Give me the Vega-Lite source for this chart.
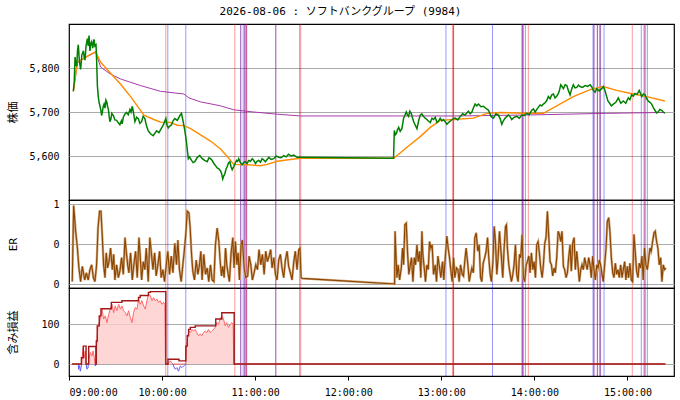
{
  "$schema": "https://vega.github.io/schema/vega-lite/v6.json",
  "padding": {"left": 6, "top": 5, "right": 7, "bottom": 5},
  "title": {"text": "2026-08-06 : ソフトバンクグループ (9984)", "anchor": "middle", "font": "DejaVu Sans Mono, Noto Sans CJK JP", "fontSize": 11, "fontWeight": "normal", "color": "#000", "offset": 6},
  "spacing": 0,
  "bounds": "flush",
  "datasets": {
    "sig": [
      {"m": 62.4, "k": "r"}, {"m": 63.7, "k": "b"}, {"m": 75.3, "k": "b"},
      {"m": 106.9, "k": "r"}, {"m": 110.7, "k": "r"}, {"m": 110.7, "k": "b"}, {"m": 112.3, "k": "b"},
      {"m": 113.3, "k": "r"}, {"m": 113.3, "k": "b"}, {"m": 114.2, "k": "r"}, {"m": 114.2, "k": "b"}, {"m": 114.6, "k": "r"},
      {"m": 133.3, "k": "r"}, {"m": 133.3, "k": "b"}, {"m": 148.7, "k": "b"}, {"m": 149.4, "k": "r"},
      {"m": 243.0, "k": "b"}, {"m": 247.2, "k": "r"}, {"m": 247.9, "k": "r"}, {"m": 247.9, "k": "b"},
      {"m": 273.0, "k": "b"}, {"m": 292.1, "k": "r"}, {"m": 292.1, "k": "b"}, {"m": 292.7, "k": "r"}, {"m": 292.7, "k": "b"},
      {"m": 294.2, "k": "b"}, {"m": 296.1, "k": "r"},
      {"m": 337.8, "k": "b"}, {"m": 338.4, "k": "r"}, {"m": 338.4, "k": "b"}, {"m": 340.6, "k": "r"}, {"m": 340.6, "k": "b"},
      {"m": 341.9, "k": "r"}, {"m": 342.5, "k": "r"}, {"m": 342.5, "k": "b"}, {"m": 344.9, "k": "b"},
      {"m": 363.1, "k": "r"}, {"m": 368.9, "k": "b"}, {"m": 370.6, "k": "r"}, {"m": 371.3, "k": "r"}, {"m": 371.3, "k": "b"}, {"m": 372.8, "k": "b"}
    ],
    "price": [
      {"m": 2.8, "p": 5748}, {"m": 3.4, "p": 5770}, {"m": 3.9, "p": 5825}, {"m": 4.4, "p": 5810}, {"m": 5.0, "p": 5804},
      {"m": 5.5, "p": 5840}, {"m": 6.0, "p": 5853}, {"m": 6.7, "p": 5815}, {"m": 7.5, "p": 5797}, {"m": 8.3, "p": 5830},
      {"m": 9.3, "p": 5839}, {"m": 9.8, "p": 5825}, {"m": 10.3, "p": 5818}, {"m": 11.0, "p": 5850}, {"m": 11.8, "p": 5867},
      {"m": 12.4, "p": 5850}, {"m": 12.9, "p": 5874}, {"m": 13.5, "p": 5839}, {"m": 14.0, "p": 5855}, {"m": 14.6, "p": 5860},
      {"m": 15.3, "p": 5845}, {"m": 16.1, "p": 5865}, {"m": 16.7, "p": 5850}, {"m": 17.4, "p": 5853}, {"m": 17.8, "p": 5818},
      {"m": 18.3, "p": 5760}, {"m": 18.9, "p": 5734}, {"m": 19.4, "p": 5722}, {"m": 20.0, "p": 5713}, {"m": 20.5, "p": 5705},
      {"m": 21.0, "p": 5692}, {"m": 21.5, "p": 5700}, {"m": 22.1, "p": 5713}, {"m": 22.6, "p": 5718}, {"m": 23.2, "p": 5709},
      {"m": 23.8, "p": 5727}, {"m": 24.4, "p": 5722}, {"m": 24.9, "p": 5712}, {"m": 25.4, "p": 5706}, {"m": 25.9, "p": 5690},
      {"m": 26.4, "p": 5678}, {"m": 27.0, "p": 5684}, {"m": 27.6, "p": 5697}, {"m": 28.6, "p": 5692}, {"m": 29.6, "p": 5682},
      {"m": 30.7, "p": 5681}, {"m": 31.7, "p": 5676}, {"m": 32.8, "p": 5671}, {"m": 33.8, "p": 5680}, {"m": 34.3, "p": 5673},
      {"m": 35.0, "p": 5688}, {"m": 36.0, "p": 5695}, {"m": 37.1, "p": 5699}, {"m": 38.2, "p": 5694}, {"m": 39.3, "p": 5706},
      {"m": 40.0, "p": 5700}, {"m": 40.8, "p": 5713}, {"m": 41.5, "p": 5700}, {"m": 42.5, "p": 5678}, {"m": 43.6, "p": 5688},
      {"m": 44.7, "p": 5685}, {"m": 45.7, "p": 5674}, {"m": 46.8, "p": 5678}, {"m": 47.8, "p": 5690}, {"m": 48.9, "p": 5685},
      {"m": 50.0, "p": 5668}, {"m": 51.1, "p": 5657}, {"m": 52.7, "p": 5650}, {"m": 54.3, "p": 5646}, {"m": 55.4, "p": 5652},
      {"m": 56.5, "p": 5657}, {"m": 58.0, "p": 5653}, {"m": 59.7, "p": 5664}, {"m": 61.0, "p": 5672}, {"m": 62.4, "p": 5685},
      {"m": 63.2, "p": 5670}, {"m": 64.0, "p": 5664}, {"m": 65.0, "p": 5668}, {"m": 66.1, "p": 5671}, {"m": 67.1, "p": 5680},
      {"m": 68.2, "p": 5685}, {"m": 69.8, "p": 5681}, {"m": 71.5, "p": 5692}, {"m": 72.5, "p": 5697}, {"m": 73.6, "p": 5678},
      {"m": 74.7, "p": 5657}, {"m": 75.8, "p": 5629}, {"m": 76.9, "p": 5594}, {"m": 77.7, "p": 5598}, {"m": 79.0, "p": 5590},
      {"m": 80.0, "p": 5585}, {"m": 81.1, "p": 5587}, {"m": 82.7, "p": 5597}, {"m": 84.3, "p": 5601}, {"m": 85.9, "p": 5594},
      {"m": 87.5, "p": 5590}, {"m": 89.1, "p": 5587}, {"m": 90.2, "p": 5596}, {"m": 91.2, "p": 5594}, {"m": 92.3, "p": 5590},
      {"m": 93.4, "p": 5583}, {"m": 94.5, "p": 5578}, {"m": 95.5, "p": 5573}, {"m": 96.6, "p": 5571}, {"m": 97.7, "p": 5566},
      {"m": 98.4, "p": 5560}, {"m": 99.1, "p": 5548}, {"m": 99.8, "p": 5555}, {"m": 100.4, "p": 5559}, {"m": 101.2, "p": 5570},
      {"m": 102.0, "p": 5576}, {"m": 102.8, "p": 5584}, {"m": 103.7, "p": 5587}, {"m": 104.5, "p": 5575}, {"m": 105.2, "p": 5569},
      {"m": 106.2, "p": 5576}, {"m": 107.1, "p": 5583}, {"m": 108.0, "p": 5590}, {"m": 108.7, "p": 5588}, {"m": 109.4, "p": 5594},
      {"m": 110.5, "p": 5585}, {"m": 111.6, "p": 5580}, {"m": 112.7, "p": 5586}, {"m": 113.8, "p": 5587}, {"m": 114.8, "p": 5583},
      {"m": 115.9, "p": 5590}, {"m": 117.0, "p": 5588}, {"m": 118.1, "p": 5594}, {"m": 119.1, "p": 5590}, {"m": 120.2, "p": 5583},
      {"m": 121.2, "p": 5588}, {"m": 122.3, "p": 5590}, {"m": 123.4, "p": 5586}, {"m": 124.5, "p": 5594}, {"m": 125.6, "p": 5591},
      {"m": 126.6, "p": 5587}, {"m": 127.7, "p": 5592}, {"m": 128.8, "p": 5597}, {"m": 130.4, "p": 5592}, {"m": 132.0, "p": 5594},
      {"m": 133.6, "p": 5600}, {"m": 135.2, "p": 5597}, {"m": 136.8, "p": 5596}, {"m": 138.4, "p": 5601}, {"m": 140.0, "p": 5598},
      {"m": 141.6, "p": 5604}, {"m": 143.2, "p": 5600}, {"m": 144.9, "p": 5602}, {"m": 147.0, "p": 5597}, {"m": 149.2, "p": 5597},
      {"m": 209.2, "p": 5595},
      {"m": 209.7, "p": 5658}, {"m": 210.3, "p": 5648}, {"m": 211.0, "p": 5651}, {"m": 211.8, "p": 5660}, {"m": 212.5, "p": 5665},
      {"m": 213.5, "p": 5656}, {"m": 214.6, "p": 5662}, {"m": 215.7, "p": 5686}, {"m": 216.5, "p": 5692}, {"m": 217.4, "p": 5700},
      {"m": 218.1, "p": 5694}, {"m": 218.9, "p": 5690}, {"m": 219.7, "p": 5702}, {"m": 220.6, "p": 5697}, {"m": 221.3, "p": 5688},
      {"m": 222.1, "p": 5679}, {"m": 223.2, "p": 5670}, {"m": 224.3, "p": 5662}, {"m": 225.4, "p": 5680}, {"m": 226.4, "p": 5693},
      {"m": 227.4, "p": 5696}, {"m": 228.5, "p": 5690}, {"m": 229.6, "p": 5686}, {"m": 230.7, "p": 5683}, {"m": 231.8, "p": 5679},
      {"m": 232.9, "p": 5676}, {"m": 234.0, "p": 5686}, {"m": 235.0, "p": 5683}, {"m": 236.1, "p": 5688}, {"m": 237.2, "p": 5676},
      {"m": 238.3, "p": 5680}, {"m": 239.3, "p": 5686}, {"m": 240.4, "p": 5680}, {"m": 241.4, "p": 5683}, {"m": 242.5, "p": 5678},
      {"m": 243.6, "p": 5672}, {"m": 244.6, "p": 5676}, {"m": 245.7, "p": 5679}, {"m": 247.4, "p": 5684}, {"m": 249.0, "p": 5686},
      {"m": 250.6, "p": 5682}, {"m": 252.2, "p": 5690}, {"m": 253.8, "p": 5696}, {"m": 255.4, "p": 5693}, {"m": 256.5, "p": 5698},
      {"m": 257.5, "p": 5702}, {"m": 258.6, "p": 5696}, {"m": 259.7, "p": 5700}, {"m": 260.8, "p": 5710}, {"m": 261.8, "p": 5718},
      {"m": 262.9, "p": 5714}, {"m": 264.0, "p": 5718}, {"m": 265.6, "p": 5712}, {"m": 267.2, "p": 5713}, {"m": 268.8, "p": 5708},
      {"m": 270.4, "p": 5704}, {"m": 272.0, "p": 5690}, {"m": 273.6, "p": 5686}, {"m": 275.2, "p": 5696}, {"m": 276.8, "p": 5693},
      {"m": 277.9, "p": 5685}, {"m": 279.0, "p": 5672}, {"m": 280.0, "p": 5680}, {"m": 281.1, "p": 5686}, {"m": 282.2, "p": 5690},
      {"m": 283.3, "p": 5693}, {"m": 284.4, "p": 5689}, {"m": 285.4, "p": 5683}, {"m": 287.0, "p": 5688}, {"m": 288.7, "p": 5690},
      {"m": 290.3, "p": 5686}, {"m": 291.9, "p": 5693}, {"m": 293.5, "p": 5692}, {"m": 295.1, "p": 5697}, {"m": 296.7, "p": 5694},
      {"m": 298.3, "p": 5704}, {"m": 299.4, "p": 5707}, {"m": 300.5, "p": 5700}, {"m": 301.6, "p": 5706}, {"m": 302.6, "p": 5711},
      {"m": 303.7, "p": 5716}, {"m": 304.8, "p": 5714}, {"m": 305.8, "p": 5718}, {"m": 306.9, "p": 5721}, {"m": 308.0, "p": 5726},
      {"m": 309.0, "p": 5735}, {"m": 310.1, "p": 5730}, {"m": 311.2, "p": 5739}, {"m": 312.3, "p": 5741}, {"m": 313.3, "p": 5732},
      {"m": 314.4, "p": 5736}, {"m": 315.5, "p": 5742}, {"m": 316.2, "p": 5750}, {"m": 317.0, "p": 5762}, {"m": 317.8, "p": 5758},
      {"m": 318.7, "p": 5753}, {"m": 319.8, "p": 5762}, {"m": 320.9, "p": 5760}, {"m": 322.0, "p": 5748}, {"m": 323.0, "p": 5739},
      {"m": 324.0, "p": 5752}, {"m": 325.1, "p": 5762}, {"m": 326.2, "p": 5755}, {"m": 327.3, "p": 5756}, {"m": 328.4, "p": 5761},
      {"m": 329.4, "p": 5758}, {"m": 331.0, "p": 5756}, {"m": 332.7, "p": 5760}, {"m": 334.3, "p": 5758}, {"m": 335.9, "p": 5762},
      {"m": 337.0, "p": 5757}, {"m": 338.0, "p": 5749}, {"m": 339.1, "p": 5745}, {"m": 340.2, "p": 5753}, {"m": 341.8, "p": 5748},
      {"m": 343.4, "p": 5753}, {"m": 344.5, "p": 5758}, {"m": 345.5, "p": 5749}, {"m": 346.6, "p": 5735}, {"m": 347.4, "p": 5725},
      {"m": 348.3, "p": 5721}, {"m": 349.6, "p": 5714}, {"m": 350.9, "p": 5718}, {"m": 352.5, "p": 5722}, {"m": 354.1, "p": 5732},
      {"m": 355.7, "p": 5720}, {"m": 357.3, "p": 5725}, {"m": 358.9, "p": 5720}, {"m": 360.5, "p": 5732}, {"m": 361.6, "p": 5728},
      {"m": 362.7, "p": 5739}, {"m": 363.8, "p": 5736}, {"m": 364.8, "p": 5742}, {"m": 366.2, "p": 5740}, {"m": 367.6, "p": 5749},
      {"m": 368.4, "p": 5742}, {"m": 369.2, "p": 5735}, {"m": 370.3, "p": 5741}, {"m": 371.3, "p": 5739}, {"m": 372.4, "p": 5730},
      {"m": 373.4, "p": 5725}, {"m": 374.5, "p": 5722}, {"m": 375.6, "p": 5718}, {"m": 376.7, "p": 5710}, {"m": 377.7, "p": 5704},
      {"m": 378.8, "p": 5698}, {"m": 379.8, "p": 5700}, {"m": 380.9, "p": 5706}, {"m": 382.0, "p": 5704}, {"m": 383.1, "p": 5700},
      {"m": 384.1, "p": 5697}
    ],
    "ma": [
      {"m": 2.8, "p": 5746}, {"m": 5.4, "p": 5813}, {"m": 11.8, "p": 5827}, {"m": 17.2, "p": 5837}, {"m": 20.4, "p": 5813},
      {"m": 26.8, "p": 5788}, {"m": 33.3, "p": 5763}, {"m": 39.7, "p": 5735}, {"m": 44.0, "p": 5714}, {"m": 48.3, "p": 5693},
      {"m": 54.7, "p": 5683}, {"m": 59.0, "p": 5677}, {"m": 65.5, "p": 5676}, {"m": 69.8, "p": 5670}, {"m": 74.0, "p": 5669},
      {"m": 78.4, "p": 5662}, {"m": 84.8, "p": 5648}, {"m": 91.2, "p": 5634}, {"m": 97.7, "p": 5616}, {"m": 102.0, "p": 5599},
      {"m": 106.2, "p": 5581}, {"m": 114.9, "p": 5580}, {"m": 123.4, "p": 5578}, {"m": 127.7, "p": 5581}, {"m": 134.2, "p": 5588},
      {"m": 142.7, "p": 5592}, {"m": 149.2, "p": 5595}, {"m": 209.3, "p": 5595}, {"m": 217.9, "p": 5620}, {"m": 226.4, "p": 5644},
      {"m": 232.9, "p": 5665}, {"m": 239.3, "p": 5681}, {"m": 247.9, "p": 5683}, {"m": 260.7, "p": 5686}, {"m": 269.4, "p": 5697},
      {"m": 277.9, "p": 5699}, {"m": 292.9, "p": 5697}, {"m": 305.8, "p": 5697}, {"m": 314.4, "p": 5714}, {"m": 325.1, "p": 5735},
      {"m": 335.9, "p": 5751}, {"m": 344.4, "p": 5758}, {"m": 353.1, "p": 5749}, {"m": 363.7, "p": 5741}, {"m": 372.4, "p": 5735},
      {"m": 384.1, "p": 5725}
    ],
    "vwap": [
      {"m": 2.8, "p": 5746}, {"m": 5.4, "p": 5812}, {"m": 11.8, "p": 5826}, {"m": 17.2, "p": 5836}, {"m": 20.4, "p": 5802},
      {"m": 26.8, "p": 5786}, {"m": 33.3, "p": 5775}, {"m": 46.2, "p": 5760}, {"m": 59.0, "p": 5747}, {"m": 74.0, "p": 5741},
      {"m": 77.3, "p": 5732}, {"m": 84.8, "p": 5723}, {"m": 97.7, "p": 5714}, {"m": 106.2, "p": 5705}, {"m": 119.1, "p": 5700},
      {"m": 134.2, "p": 5695}, {"m": 149.2, "p": 5691}, {"m": 209.3, "p": 5691}, {"m": 250.0, "p": 5691}, {"m": 292.9, "p": 5693},
      {"m": 346.6, "p": 5697}, {"m": 384.1, "p": 5699}
    ],
    "er": [
      {"m": 2.1, "e": 0.03}, {"m": 3.0, "e": 0.98}, {"m": 4.3, "e": 0.66}, {"m": 5.4, "e": 0.45}, {"m": 6.4, "e": 0.2},
      {"m": 7.5, "e": 0.03}, {"m": 8.6, "e": 0.22}, {"m": 10.1, "e": 0.05}, {"m": 11.2, "e": 0.14}, {"m": 12.4, "e": 0.05},
      {"m": 13.5, "e": 0.18}, {"m": 14.6, "e": 0.24}, {"m": 15.7, "e": 0.08}, {"m": 16.7, "e": 0.03}, {"m": 17.8, "e": 0.24},
      {"m": 18.7, "e": 0.7}, {"m": 19.7, "e": 0.91}, {"m": 20.6, "e": 0.91}, {"m": 21.5, "e": 0.58}, {"m": 22.3, "e": 0.24},
      {"m": 23.2, "e": 0.08}, {"m": 24.0, "e": 0.39}, {"m": 24.9, "e": 0.2}, {"m": 25.8, "e": 0.28}, {"m": 26.8, "e": 0.45},
      {"m": 27.9, "e": 0.18}, {"m": 28.8, "e": 0.37}, {"m": 29.6, "e": 0.05}, {"m": 30.7, "e": 0.24}, {"m": 31.8, "e": 0.08},
      {"m": 32.8, "e": 0.16}, {"m": 33.9, "e": 0.33}, {"m": 35.0, "e": 0.12}, {"m": 36.1, "e": 0.58}, {"m": 36.9, "e": 0.41},
      {"m": 37.8, "e": 0.24}, {"m": 38.6, "e": 0.14}, {"m": 39.7, "e": 0.39}, {"m": 40.8, "e": 0.05}, {"m": 41.8, "e": 0.24},
      {"m": 42.9, "e": 0.41}, {"m": 44.0, "e": 0.08}, {"m": 45.1, "e": 0.58}, {"m": 45.9, "e": 0.35}, {"m": 46.8, "e": 0.05},
      {"m": 47.9, "e": 0.28}, {"m": 48.9, "e": 0.18}, {"m": 49.8, "e": 0.45}, {"m": 51.1, "e": 0.03}, {"m": 52.1, "e": 0.58},
      {"m": 53.0, "e": 0.41}, {"m": 54.1, "e": 0.18}, {"m": 55.2, "e": 0.39}, {"m": 56.2, "e": 0.1}, {"m": 57.3, "e": 0.24},
      {"m": 58.4, "e": 0.41}, {"m": 59.4, "e": 0.08}, {"m": 60.5, "e": 0.18}, {"m": 61.6, "e": 0.03}, {"m": 62.7, "e": 0.24},
      {"m": 63.7, "e": 0.41}, {"m": 64.8, "e": 0.12}, {"m": 65.9, "e": 0.35}, {"m": 67.0, "e": 0.14}, {"m": 68.2, "e": 0.51},
      {"m": 69.3, "e": 0.24}, {"m": 70.2, "e": 0.55}, {"m": 71.2, "e": 0.18}, {"m": 72.3, "e": 0.03}, {"m": 73.4, "e": 0.24},
      {"m": 74.3, "e": 0.41}, {"m": 75.3, "e": 0.62}, {"m": 76.2, "e": 0.91}, {"m": 77.3, "e": 0.89}, {"m": 78.1, "e": 0.7},
      {"m": 79.0, "e": 0.37}, {"m": 79.8, "e": 0.16}, {"m": 80.9, "e": 0.05}, {"m": 82.0, "e": 0.3}, {"m": 83.1, "e": 0.12},
      {"m": 84.1, "e": 0.24}, {"m": 85.0, "e": 0.41}, {"m": 85.8, "e": 0.05}, {"m": 86.9, "e": 0.37}, {"m": 88.0, "e": 0.12},
      {"m": 89.1, "e": 0.2}, {"m": 90.1, "e": 0.03}, {"m": 91.2, "e": 0.24}, {"m": 92.3, "e": 0.05}, {"m": 93.4, "e": 0.03},
      {"m": 94.4, "e": 0.49}, {"m": 95.5, "e": 0.7}, {"m": 96.6, "e": 0.53}, {"m": 97.4, "e": 0.3}, {"m": 98.3, "e": 0.1},
      {"m": 99.1, "e": 0.22}, {"m": 100.0, "e": 0.08}, {"m": 100.9, "e": 0.45}, {"m": 101.7, "e": 0.24}, {"m": 102.6, "e": 0.12},
      {"m": 103.4, "e": 0.03}, {"m": 104.5, "e": 0.39}, {"m": 105.6, "e": 0.58}, {"m": 106.4, "e": 0.2}, {"m": 107.3, "e": 0.53},
      {"m": 108.2, "e": 0.24}, {"m": 109.0, "e": 0.39}, {"m": 109.9, "e": 0.05}, {"m": 110.9, "e": 0.49}, {"m": 111.8, "e": 0.55},
      {"m": 112.9, "e": 0.2}, {"m": 114.0, "e": 0.08}, {"m": 115.2, "e": 0.1}, {"m": 116.1, "e": 0.35}, {"m": 117.2, "e": 0.24},
      {"m": 118.2, "e": 0.05}, {"m": 119.3, "e": 0.14}, {"m": 120.4, "e": 0.24}, {"m": 121.5, "e": 0.18}, {"m": 122.5, "e": 0.43},
      {"m": 123.6, "e": 0.24}, {"m": 124.7, "e": 0.37}, {"m": 125.8, "e": 0.12}, {"m": 126.8, "e": 0.41}, {"m": 127.9, "e": 0.28},
      {"m": 129.0, "e": 0.35}, {"m": 130.0, "e": 0.43}, {"m": 130.9, "e": 0.2}, {"m": 132.0, "e": 0.33}, {"m": 133.1, "e": 0.12},
      {"m": 134.1, "e": 0.05}, {"m": 135.2, "e": 0.3}, {"m": 136.3, "e": 0.37}, {"m": 137.3, "e": 0.2}, {"m": 138.4, "e": 0.08},
      {"m": 139.5, "e": 0.3}, {"m": 140.6, "e": 0.41}, {"m": 141.6, "e": 0.22}, {"m": 142.7, "e": 0.14}, {"m": 143.8, "e": 0.05},
      {"m": 144.9, "e": 0.28}, {"m": 145.9, "e": 0.41}, {"m": 147.0, "e": 0.18}, {"m": 148.1, "e": 0.43}, {"m": 148.9, "e": 0.45},
      {"m": 149.6, "e": 0.08}, {"m": 150.2, "e": 0.07}, {"m": 209.9, "e": 0.0},
      {"m": 210.2, "e": 0.66}, {"m": 210.5, "e": 0.49}, {"m": 211.4, "e": 0.08}, {"m": 212.2, "e": 0.24}, {"m": 213.1, "e": 0.05},
      {"m": 214.2, "e": 0.2}, {"m": 215.0, "e": 0.45}, {"m": 215.7, "e": 0.24}, {"m": 216.5, "e": 0.74}, {"m": 217.4, "e": 0.76},
      {"m": 218.3, "e": 0.37}, {"m": 219.1, "e": 0.12}, {"m": 220.0, "e": 0.24}, {"m": 220.8, "e": 0.33}, {"m": 221.7, "e": 0.03},
      {"m": 222.6, "e": 0.33}, {"m": 223.4, "e": 0.24}, {"m": 224.3, "e": 0.49}, {"m": 225.1, "e": 0.28}, {"m": 226.0, "e": 0.41},
      {"m": 226.8, "e": 0.08}, {"m": 227.5, "e": 0.66}, {"m": 228.1, "e": 0.37}, {"m": 229.0, "e": 0.2}, {"m": 229.8, "e": 0.03},
      {"m": 230.7, "e": 0.24}, {"m": 231.6, "e": 0.18}, {"m": 232.4, "e": 0.53}, {"m": 233.3, "e": 0.45}, {"m": 234.1, "e": 0.49},
      {"m": 235.0, "e": 0.12}, {"m": 236.1, "e": 0.24}, {"m": 236.9, "e": 0.03}, {"m": 237.8, "e": 0.35}, {"m": 238.9, "e": 0.2},
      {"m": 239.7, "e": 0.08}, {"m": 240.8, "e": 0.28}, {"m": 241.6, "e": 0.05}, {"m": 242.7, "e": 0.37}, {"m": 243.6, "e": 0.6},
      {"m": 244.4, "e": 0.45}, {"m": 245.3, "e": 0.33}, {"m": 246.2, "e": 0.16}, {"m": 247.0, "e": 0.03}, {"m": 247.9, "e": 0.33},
      {"m": 248.7, "e": 0.08}, {"m": 249.8, "e": 0.2}, {"m": 250.7, "e": 0.18}, {"m": 251.5, "e": 0.03}, {"m": 252.4, "e": 0.24},
      {"m": 253.5, "e": 0.12}, {"m": 254.3, "e": 0.1}, {"m": 255.2, "e": 0.3}, {"m": 256.0, "e": 0.45}, {"m": 257.1, "e": 0.24},
      {"m": 258.0, "e": 0.03}, {"m": 258.8, "e": 0.12}, {"m": 259.7, "e": 0.2}, {"m": 260.7, "e": 0.14}, {"m": 261.6, "e": 0.58},
      {"m": 262.5, "e": 0.64}, {"m": 263.5, "e": 0.41}, {"m": 264.4, "e": 0.49}, {"m": 265.3, "e": 0.08}, {"m": 266.1, "e": 0.03},
      {"m": 267.0, "e": 0.26}, {"m": 268.0, "e": 0.33}, {"m": 268.9, "e": 0.41}, {"m": 269.8, "e": 0.58}, {"m": 270.6, "e": 0.33},
      {"m": 271.5, "e": 0.12}, {"m": 272.3, "e": 0.03}, {"m": 273.2, "e": 0.26}, {"m": 274.1, "e": 0.72}, {"m": 274.9, "e": 0.53},
      {"m": 275.8, "e": 0.12}, {"m": 276.6, "e": 0.33}, {"m": 277.5, "e": 0.66}, {"m": 278.6, "e": 0.37}, {"m": 279.6, "e": 0.08},
      {"m": 280.5, "e": 0.45}, {"m": 281.4, "e": 0.72}, {"m": 282.0, "e": 0.74}, {"m": 282.6, "e": 0.45}, {"m": 283.5, "e": 0.24},
      {"m": 284.4, "e": 0.12}, {"m": 285.2, "e": 0.03}, {"m": 286.1, "e": 0.12}, {"m": 286.9, "e": 0.24}, {"m": 287.8, "e": 0.49},
      {"m": 288.6, "e": 0.12}, {"m": 289.5, "e": 0.03}, {"m": 290.4, "e": 0.37}, {"m": 291.2, "e": 0.33}, {"m": 292.1, "e": 0.62},
      {"m": 292.9, "e": 0.08}, {"m": 293.8, "e": 0.03}, {"m": 294.7, "e": 0.24}, {"m": 295.5, "e": 0.28}, {"m": 296.4, "e": 0.35},
      {"m": 297.2, "e": 0.14}, {"m": 298.1, "e": 0.39}, {"m": 299.0, "e": 0.18}, {"m": 299.8, "e": 0.28}, {"m": 300.7, "e": 0.08},
      {"m": 301.5, "e": 0.49}, {"m": 302.4, "e": 0.53}, {"m": 303.2, "e": 0.39}, {"m": 304.1, "e": 0.2}, {"m": 305.0, "e": 0.08},
      {"m": 305.8, "e": 0.24}, {"m": 306.7, "e": 0.51}, {"m": 307.5, "e": 0.58}, {"m": 308.4, "e": 0.91}, {"m": 309.2, "e": 0.62},
      {"m": 310.1, "e": 0.28}, {"m": 311.0, "e": 0.24}, {"m": 311.8, "e": 0.1}, {"m": 312.7, "e": 0.2}, {"m": 313.5, "e": 0.14},
      {"m": 314.4, "e": 0.33}, {"m": 315.3, "e": 0.66}, {"m": 316.1, "e": 0.62}, {"m": 317.0, "e": 0.53}, {"m": 317.8, "e": 0.66},
      {"m": 318.7, "e": 0.22}, {"m": 319.5, "e": 0.18}, {"m": 320.4, "e": 0.08}, {"m": 321.3, "e": 0.14}, {"m": 322.1, "e": 0.33},
      {"m": 323.0, "e": 0.49}, {"m": 323.8, "e": 0.16}, {"m": 324.7, "e": 0.51}, {"m": 325.6, "e": 0.58}, {"m": 326.4, "e": 0.18},
      {"m": 327.3, "e": 0.41}, {"m": 328.1, "e": 0.24}, {"m": 329.0, "e": 0.03}, {"m": 329.9, "e": 0.18}, {"m": 330.7, "e": 0.24},
      {"m": 331.6, "e": 0.18}, {"m": 332.4, "e": 0.33}, {"m": 333.3, "e": 0.24}, {"m": 334.1, "e": 0.18}, {"m": 335.0, "e": 0.33},
      {"m": 335.9, "e": 0.24}, {"m": 336.7, "e": 0.08}, {"m": 337.6, "e": 0.35}, {"m": 338.4, "e": 0.18}, {"m": 339.3, "e": 0.05},
      {"m": 340.2, "e": 0.24}, {"m": 341.0, "e": 0.2}, {"m": 341.9, "e": 0.3}, {"m": 342.7, "e": 0.24}, {"m": 343.6, "e": 0.12},
      {"m": 344.4, "e": 0.03}, {"m": 345.3, "e": 0.24}, {"m": 346.2, "e": 0.45}, {"m": 347.0, "e": 0.78}, {"m": 347.9, "e": 0.83},
      {"m": 348.7, "e": 0.66}, {"m": 349.6, "e": 0.33}, {"m": 350.5, "e": 0.14}, {"m": 351.3, "e": 0.08}, {"m": 352.2, "e": 0.26},
      {"m": 353.0, "e": 0.12}, {"m": 353.9, "e": 0.18}, {"m": 354.7, "e": 0.08}, {"m": 355.6, "e": 0.24}, {"m": 356.5, "e": 0.08},
      {"m": 357.3, "e": 0.18}, {"m": 358.2, "e": 0.28}, {"m": 359.0, "e": 0.05}, {"m": 359.9, "e": 0.22}, {"m": 360.7, "e": 0.08},
      {"m": 361.6, "e": 0.26}, {"m": 362.5, "e": 0.05}, {"m": 363.3, "e": 0.03}, {"m": 364.2, "e": 0.62}, {"m": 365.0, "e": 0.41},
      {"m": 365.9, "e": 0.16}, {"m": 366.8, "e": 0.08}, {"m": 367.6, "e": 0.26}, {"m": 368.5, "e": 0.2}, {"m": 369.3, "e": 0.35},
      {"m": 370.2, "e": 0.05}, {"m": 371.0, "e": 0.45}, {"m": 371.9, "e": 0.24}, {"m": 372.8, "e": 0.18}, {"m": 373.6, "e": 0.3},
      {"m": 374.5, "e": 0.45}, {"m": 375.3, "e": 0.41}, {"m": 376.2, "e": 0.53}, {"m": 377.1, "e": 0.64}, {"m": 377.9, "e": 0.66},
      {"m": 378.8, "e": 0.53}, {"m": 379.6, "e": 0.45}, {"m": 380.5, "e": 0.24}, {"m": 381.4, "e": 0.33}, {"m": 382.2, "e": 0.03},
      {"m": 383.1, "e": 0.24}, {"m": 383.9, "e": 0.18}, {"m": 384.8, "e": 0.2}
    ],
    "pnl": [
      {"m": 2.0, "p": 0}, {"m": 6.0, "p": 0}, {"m": 8.1, "p": 0}, {"m": 8.4, "p": 16}, {"m": 9.2, "p": 41}, {"m": 9.9, "p": 16},
      {"m": 10.5, "p": 33}, {"m": 11.0, "p": 0}, {"m": 12.5, "p": 0}, {"m": 12.7, "p": 8}, {"m": 13.7, "p": 29}, {"m": 14.8, "p": 20},
      {"m": 15.5, "p": 33}, {"m": 16.3, "p": 16}, {"m": 16.7, "p": 0}, {"m": 17.4, "p": 0}, {"m": 18.0, "p": 58}, {"m": 18.7, "p": 96},
      {"m": 19.5, "p": 104}, {"m": 20.6, "p": 121}, {"m": 21.3, "p": 138}, {"m": 22.3, "p": 113}, {"m": 23.4, "p": 121}, {"m": 24.5, "p": 104},
      {"m": 25.6, "p": 125}, {"m": 26.6, "p": 138}, {"m": 27.7, "p": 150}, {"m": 28.8, "p": 129}, {"m": 29.8, "p": 146}, {"m": 30.9, "p": 134},
      {"m": 32.0, "p": 150}, {"m": 33.1, "p": 138}, {"m": 34.1, "p": 146}, {"m": 35.2, "p": 134}, {"m": 36.3, "p": 129}, {"m": 37.4, "p": 121},
      {"m": 38.4, "p": 134}, {"m": 39.5, "p": 117}, {"m": 40.6, "p": 104}, {"m": 41.6, "p": 129}, {"m": 42.7, "p": 142}, {"m": 43.8, "p": 138},
      {"m": 44.9, "p": 163}, {"m": 45.9, "p": 150}, {"m": 47.0, "p": 159}, {"m": 48.1, "p": 146}, {"m": 49.2, "p": 138}, {"m": 50.2, "p": 159},
      {"m": 51.3, "p": 176}, {"m": 52.4, "p": 172}, {"m": 53.5, "p": 159}, {"m": 54.5, "p": 167}, {"m": 55.6, "p": 159}, {"m": 56.7, "p": 163},
      {"m": 57.7, "p": 155}, {"m": 58.8, "p": 159}, {"m": 59.9, "p": 150}, {"m": 61.0, "p": 155}, {"m": 61.8, "p": 150}, {"m": 62.2, "p": 0},
      {"m": 64.0, "p": 0}, {"m": 64.2, "p": 3}, {"m": 65.3, "p": 8}, {"m": 66.3, "p": 3}, {"m": 67.0, "p": 0}, {"m": 75.3, "p": 0},
      {"m": 75.8, "p": 45}, {"m": 76.6, "p": 71}, {"m": 77.5, "p": 83}, {"m": 78.3, "p": 79}, {"m": 79.2, "p": 87}, {"m": 80.3, "p": 83},
      {"m": 81.3, "p": 87}, {"m": 82.4, "p": 79}, {"m": 83.5, "p": 71}, {"m": 84.6, "p": 76}, {"m": 85.6, "p": 71}, {"m": 86.7, "p": 79},
      {"m": 87.8, "p": 83}, {"m": 88.9, "p": 79}, {"m": 89.9, "p": 87}, {"m": 91.0, "p": 79}, {"m": 92.1, "p": 83}, {"m": 93.2, "p": 87},
      {"m": 94.2, "p": 92}, {"m": 95.3, "p": 104}, {"m": 96.4, "p": 100}, {"m": 97.4, "p": 113}, {"m": 98.5, "p": 121}, {"m": 99.6, "p": 113},
      {"m": 100.7, "p": 96}, {"m": 101.7, "p": 104}, {"m": 102.8, "p": 92}, {"m": 103.9, "p": 100}, {"m": 105.0, "p": 104}, {"m": 105.8, "p": 100},
      {"m": 106.2, "p": 0}, {"m": 384.5, "p": 0}
    ],
    "hw": [
      {"m": 2.0, "p": 0}, {"m": 8.0, "p": 16}, {"m": 9.2, "p": 45}, {"m": 11.0, "p": 0}, {"m": 12.7, "p": 44}, {"m": 17.3, "p": 0},
      {"m": 17.6, "p": 58}, {"m": 18.2, "p": 96}, {"m": 19.5, "p": 121}, {"m": 20.6, "p": 139}, {"m": 27.3, "p": 155}, {"m": 34.1, "p": 159},
      {"m": 44.8, "p": 167}, {"m": 45.9, "p": 172}, {"m": 51.2, "p": 180}, {"m": 52.4, "p": 182}, {"m": 62.4, "p": 0}, {"m": 63.8, "p": 12},
      {"m": 70.9, "p": 8}, {"m": 75.3, "p": 45}, {"m": 76.2, "p": 71}, {"m": 77.1, "p": 87}, {"m": 78.2, "p": 92}, {"m": 81.3, "p": 96},
      {"m": 94.6, "p": 113}, {"m": 98.5, "p": 129}, {"m": 106.5, "p": 0}, {"m": 384.5, "p": 0}
    ],
    "neg": [
      {"m": 6.0, "p": 0, "g": 1}, {"m": 6.2, "p": -13, "g": 1}, {"m": 6.8, "p": -4, "g": 1}, {"m": 7.3, "p": -18, "g": 1}, {"m": 7.95, "p": -5, "g": 1}, {"m": 8.1, "p": 0, "g": 1},
      {"m": 11.0, "p": 0, "g": 2}, {"m": 11.6, "p": -13, "g": 2}, {"m": 12.2, "p": -10, "g": 2}, {"m": 12.5, "p": 0, "g": 2},
      {"m": 16.7, "p": 0, "g": 3}, {"m": 17.0, "p": -5, "g": 3}, {"m": 17.4, "p": 0, "g": 3},
      {"m": 67.0, "p": 0, "g": 4}, {"m": 67.4, "p": -5, "g": 4}, {"m": 68.5, "p": -13, "g": 4}, {"m": 69.5, "p": -9, "g": 4}, {"m": 70.6, "p": -18, "g": 4},
      {"m": 71.7, "p": -5, "g": 4}, {"m": 72.8, "p": -9, "g": 4}, {"m": 73.8, "p": -5, "g": 4}, {"m": 74.9, "p": -1, "g": 4}, {"m": 75.3, "p": 0, "g": 4}
    ]
  },
  "vconcat": [
    {
      "width": 605,
      "height": 176,
      "encoding": {
        "x": {"field": "m", "type": "quantitative", "scale": {"domain": [0, 390]}, "axis": null}
      },
      "layer": [
        {
          "data": {"name": "sig"},
          "mark": {"type": "rule", "strokeWidth": 1, "opacity": 0.4},
          "encoding": {
            "color": {"field": "k", "type": "nominal", "scale": {"domain": ["r", "b"], "range": ["#ff0000", "#0000ff"]}, "legend": null}
          }
        },
        {
          "data": {"name": "vwap"},
          "mark": {"type": "line", "color": "#a83aa8", "strokeWidth": 1},
          "encoding": {
            "y": {"field": "p", "type": "quantitative", "scale": {"domain": [5525, 5895], "zero": false},
              "axis": {"values": [5600, 5700, 5800], "labelExpr": "format(datum.value, ',')", "title": "株価", "titleX": -56, "titleY": 88, "titleBaseline": "middle", "titleAlign": "center"}}
          }
        },
        {
          "data": {"name": "ma"},
          "mark": {"type": "line", "color": "#ff8c00", "strokeWidth": 1.4},
          "encoding": {"y": {"field": "p", "type": "quantitative"}}
        },
        {
          "data": {"name": "price"},
          "mark": {"type": "line", "color": "#008000", "strokeWidth": 1.5},
          "encoding": {"y": {"field": "p", "type": "quantitative"}}
        }
      ]
    },
    {
      "width": 605,
      "height": 88,
      "encoding": {
        "x": {"field": "m", "type": "quantitative", "scale": {"domain": [0, 390]}, "axis": null}
      },
      "layer": [
        {
          "data": {"name": "sig"},
          "mark": {"type": "rule", "strokeWidth": 1, "opacity": 0.4},
          "encoding": {
            "color": {"field": "k", "type": "nominal", "scale": {"domain": ["r", "b"], "range": ["#ff0000", "#0000ff"]}, "legend": null}
          }
        },
        {
          "data": {"name": "er"},
          "mark": {"type": "line", "color": "#d2aa80", "strokeWidth": 2.4},
          "encoding": {
            "y": {"field": "e", "type": "quantitative", "scale": {"domain": [-0.05, 1.05], "nice": false, "zero": false},
              "axis": {"values": [0, 0.5, 1], "labelExpr": "'' + floor(datum.value)", "title": "ER", "titleX": -56, "titleY": 44, "titleBaseline": "middle", "titleAlign": "center"}}
          }
        },
        {
          "data": {"name": "er"},
          "mark": {"type": "line", "color": "#8b4500", "strokeWidth": 1.1},
          "encoding": {"y": {"field": "e", "type": "quantitative"}}
        }
      ]
    },
    {
      "width": 605,
      "height": 88,
      "encoding": {
        "x": {"field": "m", "type": "quantitative", "scale": {"domain": [0, 390]},
          "axis": {"values": [0, 60, 120, 180, 240, 300, 360], "labelExpr": "(9 + datum.value / 60 < 10 ? '0' : '') + (9 + datum.value / 60) + ':00:00'", "grid": false, "ticks": true, "tickSize": 4, "labelPadding": 7, "title": null}}
      },
      "layer": [
        {
          "data": {"name": "sig"},
          "mark": {"type": "rule", "strokeWidth": 1, "opacity": 0.4},
          "encoding": {
            "color": {"field": "k", "type": "nominal", "scale": {"domain": ["r", "b"], "range": ["#ff0000", "#0000ff"]}, "legend": null}
          }
        },
        {
          "data": {"name": "pnl"},
          "mark": {"type": "area", "color": "#ffcccc", "opacity": 0.8},
          "encoding": {
            "y": {"field": "p", "type": "quantitative", "scale": {"domain": [-30, 191], "nice": false},
              "axis": {"values": [0, 100], "title": "含み損益", "titleX": -56, "titleY": 44, "titleBaseline": "middle", "titleAlign": "center"}}
          }
        },
        {
          "data": {"name": "pnl"},
          "mark": {"type": "line", "color": "#ff6666", "strokeWidth": 1},
          "encoding": {"y": {"field": "p", "type": "quantitative"}}
        },
        {
          "data": {"name": "neg"},
          "mark": {"type": "line", "color": "#6060ff", "strokeWidth": 1},
          "encoding": {"y": {"field": "p", "type": "quantitative"}, "detail": {"field": "g", "type": "nominal"}}
        },
        {
          "data": {"name": "hw"},
          "mark": {"type": "line", "color": "#a01818", "strokeWidth": 1.4, "interpolate": "step-after"},
          "encoding": {"y": {"field": "p", "type": "quantitative"}}
        }
      ]
    }
  ],
  "config": {
    "font": "DejaVu Sans Mono, Noto Sans CJK JP",
    "view": {"stroke": "#000", "strokeWidth": 1.2},
    "concat": {"spacing": 0},
    "axis": {
      "grid": true, "gridColor": "#aaaaaa", "gridWidth": 1, "domain": false,
      "labelFont": "DejaVu Sans Mono", "labelFontSize": 10, "labelColor": "#000",
      "tickColor": "#000", "tickSize": 0, "labelPadding": 10,
      "titleFont": "DejaVu Sans Mono, Noto Sans CJK JP", "titleFontWeight": "normal", "titleFontSize": 11, "titleColor": "#000"
    }
  }
}
